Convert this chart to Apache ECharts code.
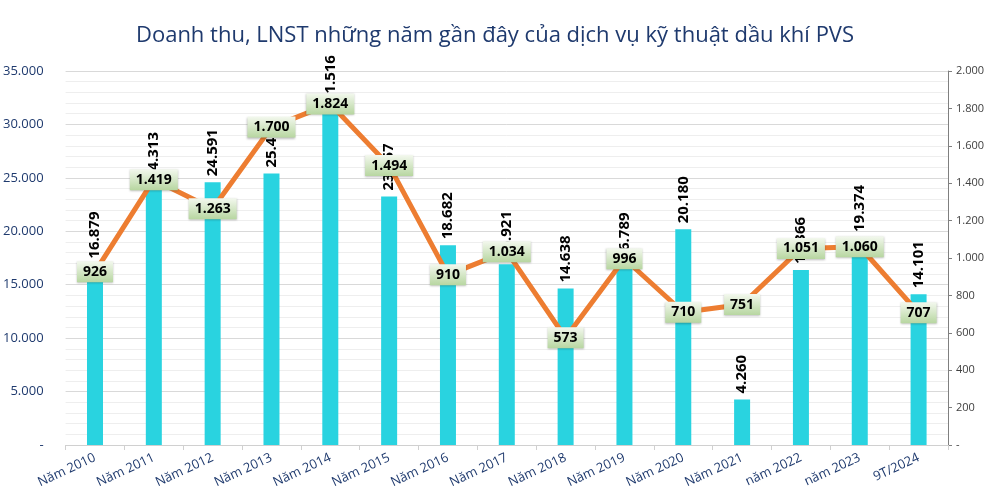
<!DOCTYPE html>
<html>
<head>
<meta charset="utf-8">
<script src="https://cdn.jsdelivr.net/npm/echarts@6/dist/echarts.min.js"></script>
<style>
  html, body { margin: 0; padding: 0; background: #fff; }
  #chart { width: 990px; height: 498px; }
</style>
</head>
<body>
<div id="chart"></div>
<script>
const categories = ['Năm 2010', 'Năm 2011', 'Năm 2012', 'Năm 2013', 'Năm 2014', 'Năm 2015', 'Năm 2016',
  'Năm 2017', 'Năm 2018', 'Năm 2019', 'Năm 2020', 'Năm 2021', 'năm 2022', 'năm 2023', '9T/2024'];
const doanhThu = [16879, 24313, 24591, 25400, 31516, 23257, 18682, 16921, 14638, 16789, 20180, 4260, 16366, 19374, 14101];
const lnst = [926, 1419, 1263, 1700, 1824, 1494, 910, 1034, 573, 996, 710, 751, 1051, 1060, 707];

const fmt = v => v === 0 ? '-' : v.toLocaleString('de-DE');
const navy = '#1F3A6E';
const font = '"Open Sans", "Noto Sans", sans-serif';

const chart = echarts.init(document.getElementById('chart'));
chart.setOption({
  animation: false,
  textStyle: { fontFamily: font },
  title: {
    text: 'Doanh thu, LNST những năm gần đây của dịch vụ kỹ thuật dầu khí PVS',
    left: 'center',
    top: 20,
    textStyle: { color: navy, fontSize: 22, fontWeight: 'normal', fontFamily: font }
  },
  grid: { left: 64, right: 42, top: 71, bottom: 53 },
  xAxis: {
    type: 'category',
    data: categories,
    axisLine: { lineStyle: { color: '#d0d0d0' } },
    axisTick: { show: true, alignWithLabel: false, lineStyle: { color: '#d0d0d0' } },
    axisLabel: { rotate: 25, color: navy, fontSize: 13, margin: 12, interval: 0 }
  },
  yAxis: [
    {
      type: 'value',
      min: 0, max: 35000, interval: 5000,
      axisLine: { show: false },
      axisTick: { show: false },
      axisLabel: { color: navy, fontSize: 13, margin: 22, formatter: fmt },
      splitLine: { lineStyle: { color: '#d9d9d9' } },
      minorTick: { show: false, splitNumber: 5 },
      minorSplitLine: { show: true, lineStyle: { color: '#eeeeee' } }
    },
    {
      type: 'value',
      min: 0, max: 2000, interval: 200,
      position: 'right',
      axisLine: { show: true, lineStyle: { color: '#7f7f7f' } },
      axisTick: { show: true, length: 4, lineStyle: { color: '#7f7f7f' } },
      axisLabel: { color: '#404040', fontSize: 11, margin: 8, formatter: fmt },
      splitLine: { show: false }
    }
  ],
  series: [
    {
      name: 'Doanh thu',
      type: 'bar',
      data: doanhThu,
      barWidth: 16,
      itemStyle: { color: '#29D3E0' },
      label: {
        show: true,
        position: 'top',
        rotate: 90,
        align: 'left',
        verticalAlign: 'middle',
        distance: 6,
        color: '#000',
        fontSize: 15,
        fontWeight: 'bold',
        formatter: p => fmt(p.value)
      },
      z: 2
    },
    {
      name: 'LNST',
      type: 'line',
      yAxisIndex: 1,
      data: lnst,
      symbol: 'circle',
      symbolSize: 0,
      showSymbol: true,
      lineStyle: { color: '#ED7D31', width: 5 },
      itemStyle: { color: '#ED7D31' },
      label: {
        show: true,
        position: 'inside',
        color: '#000',
        fontSize: 14,
        fontWeight: 'bold',
        padding: [4, 6, 3, 6],
        backgroundColor: new echarts.graphic.LinearGradient(0, 0, 0, 1, [
          { offset: 0, color: '#F3F8EE' },
          { offset: 1, color: '#B7D6A0' }
        ]),
        shadowColor: 'rgba(0,0,0,0.25)',
        shadowBlur: 2,
        shadowOffsetY: 1,
        formatter: p => fmt(p.value)
      },
      labelLayout: { hideOverlap: false },
      z: 3
    }
  ]
});
</script>
</body>
</html>
